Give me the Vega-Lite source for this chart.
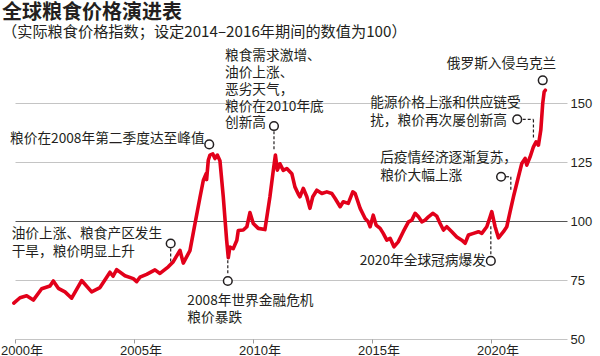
{
  "$schema": "https://vega.github.io/schema/vega-lite/v6.json",
  "autosize": "none",
  "width": 552,
  "height": 283,
  "padding": {"left": 15, "top": 56, "right": 33, "bottom": 17},
  "background": "#ffffff",
  "config": {
    "view": {"stroke": null},
    "font": "Noto Sans CJK SC"
  },
  "title": {
    "text": "全球粮食价格演进表",
    "subtitle": "（实际粮食价格指数；设定2014–2016年期间的数值为100）",
    "anchor": "start",
    "frame": "group",
    "dx": -13,
    "offset": 8,
    "font": "Noto Sans CJK SC",
    "fontSize": 20,
    "fontWeight": "bold",
    "color": "#231f20",
    "subtitleFont": "Noto Sans CJK SC",
    "subtitleFontSize": 15.2,
    "subtitleColor": "#231f20",
    "subtitlePadding": 2
  },
  "datasets": {
    "series": [
      {"t": 1999.95, "v": 65.2}, {"t": 2000.21, "v": 67.5}, {"t": 2000.49, "v": 68.3}, {"t": 2000.77, "v": 66.5},
      {"t": 2001.12, "v": 71.3}, {"t": 2001.47, "v": 72.5}, {"t": 2001.61, "v": 74.6}, {"t": 2001.82, "v": 71.5},
      {"t": 2002.10, "v": 70.0}, {"t": 2002.38, "v": 67.3}, {"t": 2002.80, "v": 74.8}, {"t": 2003.22, "v": 70.0},
      {"t": 2003.57, "v": 71.8}, {"t": 2003.99, "v": 78.3}, {"t": 2004.12, "v": 76.6}, {"t": 2004.27, "v": 79.4},
      {"t": 2004.62, "v": 76.8}, {"t": 2004.97, "v": 75.6}, {"t": 2005.11, "v": 74.3}, {"t": 2005.25, "v": 76.2},
      {"t": 2005.53, "v": 77.4}, {"t": 2005.88, "v": 79.3}, {"t": 2006.09, "v": 77.8}, {"t": 2006.44, "v": 80.6},
      {"t": 2006.65, "v": 82.8}, {"t": 2006.93, "v": 87.6}, {"t": 2007.07, "v": 82.2}, {"t": 2007.35, "v": 87.5},
      {"t": 2007.56, "v": 98.8}, {"t": 2007.77, "v": 110.0}, {"t": 2007.91, "v": 117.2}, {"t": 2008.03, "v": 120.1},
      {"t": 2008.05, "v": 117.6}, {"t": 2008.12, "v": 125.8}, {"t": 2008.19, "v": 128.0}, {"t": 2008.31, "v": 128.5},
      {"t": 2008.40, "v": 126.5}, {"t": 2008.50, "v": 128.0}, {"t": 2008.61, "v": 125.6}, {"t": 2008.75, "v": 110.3},
      {"t": 2008.89, "v": 92.0}, {"t": 2008.96, "v": 84.5}, {"t": 2009.03, "v": 89.0}, {"t": 2009.17, "v": 88.3},
      {"t": 2009.32, "v": 91.9}, {"t": 2009.38, "v": 96.0}, {"t": 2009.59, "v": 96.2}, {"t": 2009.74, "v": 97.6},
      {"t": 2009.87, "v": 103.6}, {"t": 2010.01, "v": 99.0}, {"t": 2010.22, "v": 96.9}, {"t": 2010.50, "v": 96.4},
      {"t": 2010.71, "v": 110.3}, {"t": 2010.85, "v": 121.4}, {"t": 2010.94, "v": 128.0}, {"t": 2011.02, "v": 121.6},
      {"t": 2011.13, "v": 124.3}, {"t": 2011.27, "v": 121.5}, {"t": 2011.42, "v": 122.3}, {"t": 2011.63, "v": 120.1},
      {"t": 2011.76, "v": 114.5}, {"t": 2011.90, "v": 111.5}, {"t": 2011.97, "v": 110.3}, {"t": 2012.11, "v": 113.9},
      {"t": 2012.26, "v": 110.3}, {"t": 2012.39, "v": 105.4}, {"t": 2012.51, "v": 110.3}, {"t": 2012.68, "v": 113.1},
      {"t": 2012.89, "v": 111.7}, {"t": 2013.10, "v": 112.4}, {"t": 2013.31, "v": 111.7}, {"t": 2013.45, "v": 109.6},
      {"t": 2013.66, "v": 106.1}, {"t": 2013.79, "v": 108.2}, {"t": 2014.00, "v": 107.5}, {"t": 2014.19, "v": 112.4},
      {"t": 2014.29, "v": 111.7}, {"t": 2014.50, "v": 105.4}, {"t": 2014.71, "v": 101.1}, {"t": 2014.84, "v": 99.7},
      {"t": 2014.92, "v": 97.6}, {"t": 2015.05, "v": 102.5}, {"t": 2015.17, "v": 98.3}, {"t": 2015.34, "v": 96.9},
      {"t": 2015.47, "v": 94.8}, {"t": 2015.62, "v": 91.9}, {"t": 2015.76, "v": 92.7}, {"t": 2015.92, "v": 89.1},
      {"t": 2016.10, "v": 91.2}, {"t": 2016.31, "v": 95.5}, {"t": 2016.53, "v": 99.7}, {"t": 2016.67, "v": 100.4},
      {"t": 2016.81, "v": 103.3}, {"t": 2016.95, "v": 101.8}, {"t": 2017.09, "v": 99.7}, {"t": 2017.23, "v": 100.4},
      {"t": 2017.37, "v": 101.8}, {"t": 2017.55, "v": 103.3}, {"t": 2017.72, "v": 102.1}, {"t": 2017.86, "v": 99.0},
      {"t": 2018.00, "v": 96.2}, {"t": 2018.14, "v": 97.6}, {"t": 2018.35, "v": 95.5}, {"t": 2018.56, "v": 93.3},
      {"t": 2018.77, "v": 91.9}, {"t": 2018.91, "v": 90.6}, {"t": 2019.05, "v": 94.1}, {"t": 2019.26, "v": 94.8},
      {"t": 2019.47, "v": 95.5}, {"t": 2019.61, "v": 94.8}, {"t": 2019.82, "v": 97.6}, {"t": 2019.96, "v": 101.8},
      {"t": 2020.03, "v": 104.0}, {"t": 2020.17, "v": 97.6}, {"t": 2020.31, "v": 92.9}, {"t": 2020.52, "v": 95.5},
      {"t": 2020.66, "v": 97.6}, {"t": 2020.80, "v": 104.0}, {"t": 2020.94, "v": 110.3}, {"t": 2021.15, "v": 118.8},
      {"t": 2021.29, "v": 124.4}, {"t": 2021.43, "v": 126.6}, {"t": 2021.50, "v": 123.7}, {"t": 2021.64, "v": 127.2},
      {"t": 2021.78, "v": 131.5}, {"t": 2021.89, "v": 133.6}, {"t": 2021.99, "v": 132.2}, {"t": 2022.09, "v": 138.6},
      {"t": 2022.17, "v": 149.9}, {"t": 2022.23, "v": 154.8}, {"t": 2022.28, "v": 155.5}
    ],
    "connectors": [
      {"x": 2006.54, "x2": 2006.54, "y": 88.4, "y2": 82.5},
      {"x": 2008.94, "x2": 2008.94, "y": 77.9, "y2": 84.4},
      {"x": 2010.88, "x2": 2010.88, "y": 138.1, "y2": 129.7},
      {"x": 2021.33, "x2": 2021.78, "y": 143.1, "y2": 143.1},
      {"x": 2021.78, "x2": 2021.78, "y": 143.1, "y2": 135.3},
      {"x": 2020.63, "x2": 2020.83, "y": 118.8, "y2": 118.8},
      {"x": 2020.83, "x2": 2020.83, "y": 118.8, "y2": 112.7},
      {"x": 2019.99, "x2": 2019.99, "y": 85.9, "y2": 98.6}
    ],
    "markers": [
      {"x": 2006.54, "y": 90.5},
      {"x": 2008.16, "y": 132.5},
      {"x": 2008.94, "y": 74.6},
      {"x": 2010.88, "y": 140.3},
      {"x": 2022.17, "y": 159.7},
      {"x": 2021.10, "y": 143.1},
      {"x": 2020.42, "y": 118.8},
      {"x": 2019.99, "y": 83.1}
    ],
    "labels": [
      {"x": 1999.86, "y": 94.4, "text": "油价上涨、粮食产区发生"},
      {"x": 1999.86, "y": 86.9, "text": "干旱，粮价明显上升"},
      {"x": 1999.79, "y": 134.6, "text": "粮价在2008年第二季度达至峰值"},
      {"x": 2007.24, "y": 66.1, "text": "2008年世界金融危机"},
      {"x": 2007.24, "y": 59.1, "text": "粮价暴跌"},
      {"x": 2008.82, "y": 170.2, "text": "粮食需求激增、"},
      {"x": 2008.82, "y": 162.9, "text": "油价上涨、"},
      {"x": 2008.82, "y": 155.5, "text": "恶劣天气，"},
      {"x": 2008.82, "y": 148.5, "text": "粮价在2010年底"},
      {"x": 2008.82, "y": 141.4, "text": "创新高"},
      {"x": 2018.14, "y": 166.8, "text": "俄罗斯入侵乌克兰"},
      {"x": 2014.92, "y": 150.2, "text": "能源价格上涨和供应链受"},
      {"x": 2014.92, "y": 142.4, "text": "扰，粮价再次屡创新高"},
      {"x": 2015.34, "y": 126.9, "text": "后疫情经济逐渐复苏，"},
      {"x": 2015.34, "y": 119.1, "text": "粮价大幅上涨"}
    ],
    "labelsRight": [
      {"x": 2019.78, "y": 83.1, "text": "2020年全球冠病爆发"}
    ]
  },
  "layer": [
    {
      "data": {"name": "series"},
      "mark": {"type": "line", "color": "#e2001a", "strokeWidth": 3.6, "strokeJoin": "round", "strokeCap": "round", "clip": false},
      "encoding": {
        "x": {
          "field": "t", "type": "quantitative",
          "scale": {"domain": [2000, 2023.19], "nice": false, "zero": false},
          "axis": {
            "title": null,
            "values": [2000, 2005, 2010, 2015, 2020],
            "labelExpr": "datum.value + '年'",
            "grid": false,
            "domain": false,
            "ticks": true,
            "tickSize": 4,
            "tickColor": "#9a9a9a",
            "labelFont": "Liberation Sans, Noto Sans CJK SC",
            "labelFontSize": 13,
            "labelColor": "#231f20",
            "labelAlign": "left",
            "labelOffset": -14.5,
            "labelPadding": 1,
            "labelFlush": false,
            "labelOverlap": false
          }
        },
        "y": {
          "field": "v", "type": "quantitative",
          "scale": {"domain": [50, 170], "nice": false, "zero": false},
          "axis": {
            "title": null,
            "orient": "right",
            "values": [50, 75, 100, 125, 150],
            "grid": true,
            "gridColor": {"condition": {"test": "datum.value === 100", "value": "#555555"}, "value": "#c4c4c4"},
            "gridWidth": 1,
            "domain": false,
            "ticks": false,
            "labelPadding": 3,
            "labelFont": "Liberation Sans",
            "labelFontSize": 13,
            "labelColor": "#231f20"
          }
        }
      }
    },
    {
      "data": {"name": "connectors"},
      "mark": {"type": "rule", "color": "#231f20", "strokeWidth": 1.2, "strokeDash": [3, 2], "clip": false},
      "encoding": {
        "x": {"field": "x", "type": "quantitative"},
        "x2": {"field": "x2"},
        "y": {"field": "y", "type": "quantitative"},
        "y2": {"field": "y2"}
      }
    },
    {
      "data": {"name": "markers"},
      "mark": {"type": "point", "shape": "circle", "filled": true, "fill": "#ffffff", "stroke": "#231f20", "strokeWidth": 1.5, "size": 75, "opacity": 1, "clip": false},
      "encoding": {
        "x": {"field": "x", "type": "quantitative"},
        "y": {"field": "y", "type": "quantitative"}
      }
    },
    {
      "data": {"name": "labels"},
      "mark": {"type": "text", "align": "left", "baseline": "middle", "font": "Noto Sans CJK SC", "fontSize": 13.7, "color": "#231f20", "clip": false},
      "encoding": {
        "x": {"field": "x", "type": "quantitative"},
        "y": {"field": "y", "type": "quantitative"},
        "text": {"field": "text"}
      }
    },
    {
      "data": {"name": "labelsRight"},
      "mark": {"type": "text", "align": "right", "baseline": "middle", "font": "Noto Sans CJK SC", "fontSize": 13.7, "color": "#231f20", "clip": false},
      "encoding": {
        "x": {"field": "x", "type": "quantitative"},
        "y": {"field": "y", "type": "quantitative"},
        "text": {"field": "text"}
      }
    }
  ]
}
